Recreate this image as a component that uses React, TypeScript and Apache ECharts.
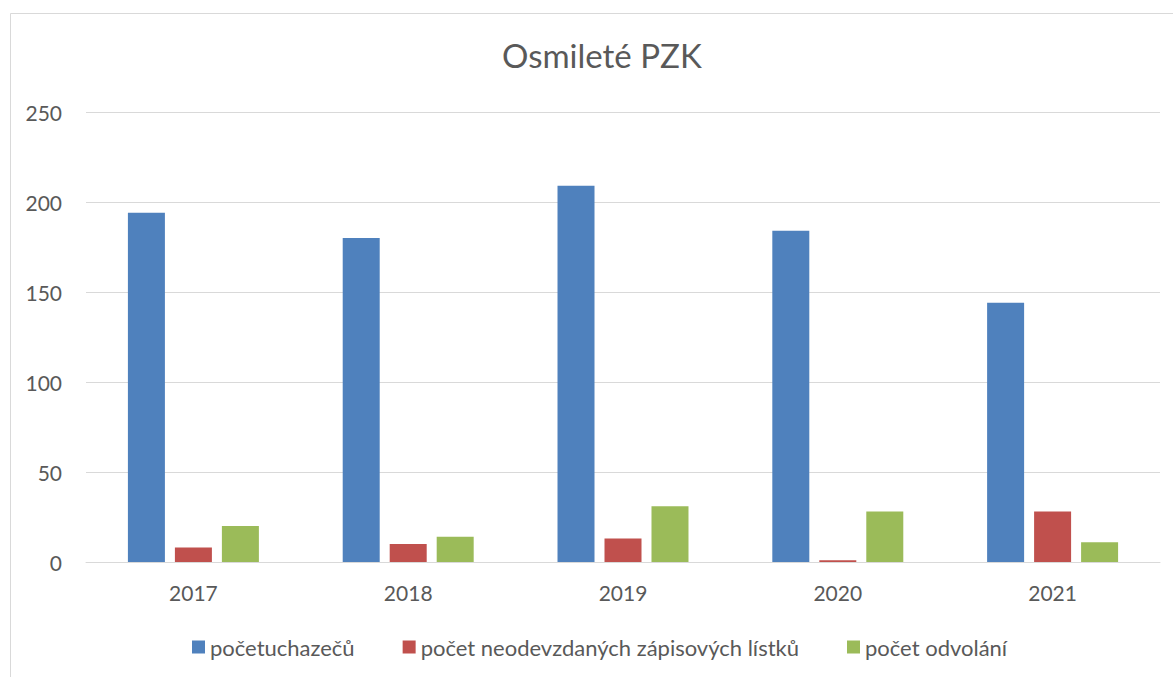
import React, { useEffect, useRef } from "react";
import * as echarts from "echarts";

const categories = ["2017", "2018", "2019", "2020", "2021"];
const seriesNames = ["početuchazečů", "počet neodevzdaných zápisových lístků", "počet odvolání"];
const uchazeci = [194, 180, 209, 184, 144];
const neodevzdane = [8, 10, 13, 1, 28];
const odvolani = [20, 14, 31, 28, 11];
const colors = ["#4F81BD", "#C0504D", "#9BBB59"];
const yTicks = { min: 0, max: 250, interval: 50 };

const FONT = "Lato, 'Open Sans', sans-serif";

export default function App() {
  const ref = useRef<HTMLDivElement>(null);
  useEffect(() => {
    if (!ref.current) return;
    const chart = echarts.init(ref.current, null, { renderer: "svg" });
    const data = [uchazeci, neodevzdane, odvolani];
    chart.setOption({
      animation: false,
      textStyle: { fontFamily: FONT },
      graphic: [
        {
          type: "rect",
          shape: { x: 10.5, y: 13.5, width: 1200, height: 700 },
          style: { fill: "none", stroke: "#d9d9d9", lineWidth: 1 },
          silent: true,
        },
      ],
      title: {
        text: "Osmileté PZK",
        left: 497,
        top: 33,
        textStyle: { fontFamily: FONT, fontSize: 33, fontWeight: "normal", color: "#595959" },
      },
      legend: {
        top: 631,
        left: 187,
        itemWidth: 13,
        itemHeight: 13,
        itemGap: 48,
        icon: "rect",
        textStyle: { fontFamily: FONT, fontSize: 22, color: "#595959" },
        data: seriesNames,
      },
      grid: { left: 86, right: 13, top: 112, bottom: 115, containLabel: false },
      xAxis: {
        type: "category",
        data: categories,
        axisLine: { lineStyle: { color: "#d9d9d9", width: 1 } },
        axisTick: { show: false },
        axisLabel: { color: "#595959", fontSize: 21, fontFamily: FONT, margin: 20 },
      },
      yAxis: {
        type: "value",
        min: yTicks.min,
        max: yTicks.max,
        interval: yTicks.interval,
        axisLine: { show: false },
        axisTick: { show: false },
        axisLabel: { color: "#595959", fontSize: 21, fontFamily: FONT, margin: 24 },
        splitLine: { lineStyle: { color: "#d9d9d9", width: 1 } },
      },
      series: data.map((d, i) => ({
        name: seriesNames[i],
        type: "bar",
        data: d,
        barWidth: 37,
        barGap: "27%",
        itemStyle: { color: colors[i] },
      })),
    });
    return () => chart.dispose();
  }, []);
  return (
    <div
      ref={ref}
      style={{ position: "absolute", left: 0, top: 0, width: 1173, height: 677, background: "#fff" }}
    />
  );
}
